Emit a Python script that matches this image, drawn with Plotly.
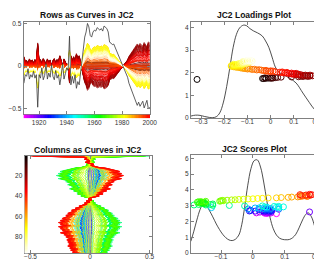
import colorsys
import plotly.graph_objects as go

# ---------------- data ----------------
years = list(range(1909, 2001))
# scores of each year (column scores)
scores = [
    0.074, 0.037, 0.044, 0.011, 0.056, 0.037, 0.048, 0.022, 0.052, 0.037,
    0.178, 0.037, 0.052, 0.007, 0.059, 0.041, -0.011, 0.056, 0.030, 0.048,
    -0.007, 0.044, 0.059, 0.019, 0.052, 0.037, 0.081, 0.044, -0.015, 0.056,
    0.033, 0.007, 0.019, -0.130, 0.081, 0.044, 0.074, 0.037, 0.096, 0.067,
    0.081, 0.030, -0.026, -0.074, -0.126, -0.148, -0.185, -0.170, -0.133, -0.126,
    -0.148, -0.156, -0.152, -0.167, -0.159, -0.156, -0.163, -0.152, -0.174, -0.170,
    -0.163, -0.148, -0.104, -0.100, -0.093, -0.096, -0.081, -0.067, -0.056, -0.044,
    -0.030, -0.015, 0.000, 0.015, 0.030, 0.048, 0.074, 0.089, 0.111, 0.122,
    0.141, 0.148, 0.170, 0.156, 0.174, 0.163, 0.152, 0.181, 0.167, 0.148,
    0.185, 0.178,
]
score_y = [
    2.50, 2.53, 2.51, 2.55, 2.54, 2.57, 2.56, 2.60, 2.58, 2.62,
    2.61, 2.64, 2.63, 2.66, 2.65, 2.68, 2.67, 2.70, 2.69, 2.72,
    2.71, 2.74, 2.73, 2.76, 2.76, 2.78, 2.78, 2.81, 2.80, 2.83,
    2.83, 2.86, 2.86, 2.88, 2.88, 2.91, 2.91, 2.93, 2.93, 2.96,
    2.96, 2.99, 2.99, 3.02, 3.02, 3.05, 3.05, 3.08, 3.08, 3.11,
    3.11, 3.14, 3.14, 3.17, 3.17, 3.20, 3.20, 3.22, 3.23, 3.25,
    3.26, 3.28, 3.29, 3.31, 3.32, 3.34, 3.35, 3.37, 3.38, 3.40,
    3.41, 3.43, 3.44, 3.46, 3.47, 3.49, 3.50, 3.52, 3.53, 3.55,
    3.56, 3.58, 3.59, 3.61, 3.62, 3.64, 3.65, 3.67, 3.68, 3.70,
    3.70, 3.72,
]

rows = list(range(1, 97))
# loadings of each row
loadings = [
    -0.318, -0.035, -0.020, -0.030, -0.010, 0.000, -0.025, 0.010, 0.020, 0.005, 0.030, 0.045,
    0.090, 0.120, 0.140, 0.160, 0.130, 0.170, 0.150, 0.180, 0.160, 0.140, 0.170, 0.150,
    0.120, 0.130, 0.110, 0.100, 0.120, 0.090,
    0.100, 0.080, 0.110, 0.070, 0.090, 0.060, 0.050, 0.070, 0.040, 0.050,
    0.020, 0.000, -0.010, 0.010, -0.020, 0.000, -0.030, -0.020,
    -0.040, -0.060, -0.050, -0.080, -0.070, -0.100, -0.090, -0.110, -0.120, -0.100,
    -0.130, -0.120, -0.140, -0.150, -0.130, -0.160, -0.140, -0.170, -0.150, -0.160,
    -0.130, -0.170, -0.150, -0.160, -0.140, -0.150, -0.120, -0.160, -0.130, -0.140,
    -0.110, -0.130,
    -0.120, -0.100, -0.125, -0.105, -0.120, -0.095, -0.115, -0.090, -0.120, -0.095,
    -0.110, -0.080, -0.105, -0.085, -0.095, -0.070,
]
loading_y = [
    1.70, 1.74, 1.75, 1.74, 1.76, 1.75, 1.77, 1.76, 1.78, 1.77, 1.79, 1.80,
    1.81, 1.82, 1.83, 1.83, 1.84, 1.85, 1.86, 1.86, 1.87, 1.88, 1.89, 1.89,
    1.90, 1.91, 1.92, 1.92, 1.93, 1.94,
    1.95, 1.96, 1.97, 1.98, 1.98, 1.99, 2.00, 2.01, 2.02, 2.03,
    2.04, 2.05, 2.06, 2.07, 2.07, 2.08, 2.09, 2.10,
    2.11, 2.12, 2.13, 2.14, 2.15, 2.16, 2.17, 2.18, 2.19, 2.20,
    2.21, 2.22, 2.23, 2.24, 2.25, 2.26, 2.27, 2.28, 2.29, 2.30,
    2.30, 2.31, 2.32, 2.33, 2.34, 2.35, 2.36, 2.37, 2.38, 2.39,
    2.40, 2.40,
    2.41, 2.42, 2.43, 2.44, 2.45, 2.46, 2.47, 2.48, 2.49, 2.50,
    2.50, 2.51, 2.52, 2.53, 2.54, 2.55,
]
# scale of the rank-one data matrix  X = K * loadings x scores
K = 8.5

# density curves
kde_load_x = [-0.345, -0.325, -0.305, -0.285, -0.265, -0.25, -0.235, -0.22, -0.205, -0.19,
              -0.176, -0.162, -0.148, -0.134, -0.118, -0.105, -0.09, -0.075, -0.057, -0.036,
              -0.022, -0.008, 0.006, 0.02, 0.034, 0.055, 0.083, 0.11, 0.139, 0.167, 0.188, 0.205]
kde_load_y = [0.08, 0.12, 0.11, 0.06, 0.02, 0.01, 0.05, 0.22, 0.66, 1.39,
              2.25, 3.12, 3.69, 3.98, 4.10, 4.08, 3.95, 3.85, 3.76, 3.62,
              3.40, 3.12, 2.69, 2.25, 2.04, 1.90, 1.75, 1.54, 1.10, 0.68, 0.39, 0.25]
kde_score_x = [-0.195, -0.186, -0.176, -0.166, -0.157, -0.148, -0.138, -0.126, -0.115, -0.105,
               -0.095, -0.085, -0.075, -0.065, -0.055, -0.044, -0.035, -0.026, -0.016, -0.006,
               0.004, 0.014, 0.024, 0.034, 0.044, 0.054, 0.064, 0.074, 0.084, 0.094,
               0.104, 0.115, 0.125, 0.135, 0.145, 0.156, 0.166, 0.174, 0.184, 0.194, 0.205]
kde_score_y = [0.75, 1.35, 2.10, 2.75, 3.10, 3.05, 2.75, 2.30, 1.85, 1.50,
               1.20, 0.98, 0.84, 0.80, 0.88, 1.15, 1.80, 2.90, 4.30, 5.35,
               5.85, 5.90, 5.45, 4.50, 3.30, 2.25, 1.55, 1.15, 0.95, 0.87,
               0.85, 0.87, 0.98, 1.20, 1.60, 2.10, 2.45, 2.55, 2.30, 1.70, 0.90]

titles = ["Rows as Curves in JC2", "JC2 Loadings Plot",
          "Columns as Curves in JC2", "JC2 Scores Plot"]

# ---------------- colours ----------------
def hot(k, n):
    n1 = int(3 * n / 8)
    r = min(k / n1, 1.0)
    g = 0.0 if k <= n1 else min((k - n1) / n1, 1.0)
    b = 0.0 if k <= 2 * n1 else (k - 2 * n1) / (n - 2 * n1)
    return "rgb(%d,%d,%d)" % (round(255 * r), round(255 * g), round(255 * b))


def year_col(yr):
    f = (yr - years[0]) / (years[-1] - years[0])
    r, g, b = colorsys.hsv_to_rgb((300 * (1 - f)) / 360.0, 1, 1)
    return "rgb(%d,%d,%d)" % (round(255 * r), round(255 * g), round(255 * b))


row_cols = [hot(r, len(rows)) for r in rows]
year_cols = [year_col(y) for y in years]

W, H = 322, 259


def dx(a, b):
    return [a / W, b / W]


def dy(top, bot):
    return [1 - bot / H, 1 - top / H]


fig = go.Figure()

# ---- top-left: rows as curves ----
for i in list(range(1, len(rows))) + [0]:
    col = "#3a3a3a" if i == 0 else row_cols[i]
    fig.add_trace(go.Scatter(
        x=years, y=[K * loadings[i] * s for s in scores], mode="lines",
        line=dict(color=col, width=0.8), xaxis="x", yaxis="y",
        hoverinfo="skip", showlegend=False))

# ---- top-right: loadings ----
fig.add_trace(go.Scatter(x=kde_load_x, y=kde_load_y, mode="lines",
                         line=dict(color="#222", width=0.8, shape="spline"),
                         xaxis="x2", yaxis="y2", showlegend=False))
fig.add_trace(go.Scatter(x=loadings, y=loading_y, mode="markers",
                         marker=dict(symbol="circle-open", size=6, color=row_cols,
                                     line=dict(width=1)),
                         xaxis="x2", yaxis="y2", showlegend=False))

# ---- bottom-left: columns as curves ----
for j, s in enumerate(scores):
    fig.add_trace(go.Scatter(
        x=[K * l * s for l in loadings], y=rows, mode="lines",
        line=dict(color=year_cols[j], width=0.8), xaxis="x3", yaxis="y3",
        hoverinfo="skip", showlegend=False))

# ---- bottom-right: scores ----
fig.add_trace(go.Scatter(x=kde_score_x, y=kde_score_y, mode="lines",
                         line=dict(color="#222", width=0.8, shape="spline"),
                         xaxis="x4", yaxis="y4", showlegend=False))
fig.add_trace(go.Scatter(x=scores, y=score_y, mode="markers",
                         marker=dict(symbol="circle-open", size=6, color=year_cols,
                                     line=dict(width=1)),
                         xaxis="x4", yaxis="y4", showlegend=False))

# ---- colour strips ----
year_scale = [[k / (len(years) - 1), c] for k, c in enumerate(year_cols)]
row_scale = [[k / (len(rows) - 1), c] for k, c in enumerate(row_cols)]
fig.add_trace(go.Heatmap(x=years, y=[0], z=[years], colorscale=year_scale,
                         showscale=False, xaxis="x5", yaxis="y5", hoverinfo="skip"))
fig.add_trace(go.Heatmap(x=[0], y=rows, z=[[r] for r in rows], colorscale=row_scale,
                         showscale=False, xaxis="x6", yaxis="y6", hoverinfo="skip"))

FONT = "Liberation Sans, Arial, sans-serif"
TF = dict(size=6.5, color="#333", family=FONT)
ax = dict(showline=True, linecolor="#808080", linewidth=1, mirror="ticks",
          ticks="inside", ticklen=3, tickcolor="#808080", showgrid=False,
          zeroline=False, tickfont=TF)
xax = dict(ax, ticklabelstandoff=-3)

fig.update_layout(
    width=W, height=H, margin=dict(l=0, r=0, t=0, b=0),
    paper_bgcolor="white", plot_bgcolor="white", showlegend=False,
    xaxis=dict(ax, domain=dx(14, 144), range=[1908.8, 2000.2],
               tickvals=[1920, 1940, 1960, 1980, 2000], showticklabels=False, anchor="y"),
    yaxis=dict(ax, domain=dy(12, 106), range=[-0.56, 0.52],
               tickvals=[-0.5, 0, 0.5], anchor="x"),
    xaxis2=dict(xax, domain=dx(186, 317), range=[-0.345, 0.205],
                tickvals=[-0.3, -0.2, -0.1, 0, 0.1, 0.2], anchor="y2"),
    yaxis2=dict(ax, domain=dy(12, 110), range=[0, 4.25],
                tickvals=[0, 1, 2, 3, 4], anchor="x2"),
    xaxis3=dict(xax, domain=dx(15, 146), range=[-0.55, 0.52],
                tickvals=[-0.5, 0, 0.5], anchor="y3"),
    yaxis3=dict(ax, domain=dy(149, 248), range=[96, 1],
                tickvals=[20, 40, 60, 80], anchor="x3"),
    xaxis4=dict(xax, domain=dx(186, 317), range=[-0.195, 0.205],
                tickvals=[-0.1, 0, 0.1, 0.2], anchor="y4"),
    yaxis4=dict(ax, domain=dy(148, 248), range=[0, 6.2],
                tickvals=[0, 1, 2, 3, 4, 5, 6], anchor="x4"),
    xaxis5=dict(domain=dx(14, 144), range=[1908.8, 2000.2], anchor="y5",
                tickvals=[1920, 1940, 1960, 1980, 2000], ticks="", showline=False,
                showgrid=False, zeroline=False, tickfont=TF, ticklabelstandoff=-1),
    yaxis5=dict(domain=dy(106.5, 110.5), range=[-0.5, 0.5], visible=False, anchor="x5"),
    xaxis6=dict(domain=dx(15, 18.5), range=[-0.5, 0.5], visible=False, anchor="y6"),
    yaxis6=dict(domain=dy(149, 248), range=[96, 1], visible=False, anchor="x6"),
)

pos = [((14 + 144) / 2, 5), ((186 + 317) / 2, 5), ((15 + 146) / 2, 143), ((186 + 317) / 2, 142)]
for t, (px, py) in zip(titles, pos):
    fig.add_annotation(text="<b>%s</b>" % t, x=px / W, y=1 - py / H, xref="paper",
                       yref="paper", showarrow=False, xanchor="center", yanchor="middle",
                       font=dict(size=8.5, color="#111", family=FONT))

fig.write_html("out.html")
